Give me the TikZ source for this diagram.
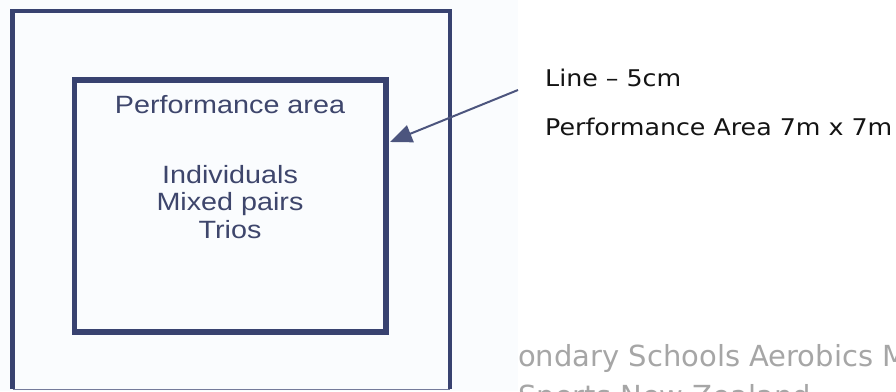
\documentclass[tikz,border=0pt]{standalone}
\usepackage{fontspec}
\setmainfont{Liberation Sans}
\newfontfamily\verdanalike{DejaVu Sans}
\usetikzlibrary{arrows.meta}
\definecolor{boxblue}{RGB}{56,66,112}
\definecolor{labelblue}{RGB}{62,70,108}
\definecolor{paper}{RGB}{250,252,254}
\definecolor{faint}{RGB}{166,166,166}
\tikzset{
  frame/.style={draw=boxblue, line width=4.6pt},
  areabox/.style={draw=boxblue, line width=5.6pt, minimum width=311.5pt, minimum height=252pt, inner sep=0pt},
  boxlabel/.style={anchor=base, inner sep=0pt, text=labelblue, font=\fontsize{25}{29}\selectfont},
  notelabel/.style={anchor=base west, inner sep=0pt, text=black!92, font=\verdanalike\fontsize{23}{28}\selectfont},
  greylabel/.style={anchor=base west, inner sep=0pt, text=faint, font=\verdanalike\fontsize{29}{35}\selectfont},
  pointer/.style={draw=boxblue!90, line width=2pt, -{Triangle[length=22pt, width=18pt]}}
}
\begin{document}
\begin{tikzpicture}[x=1pt, y=-1pt]
  \useasboundingbox (0,0) rectangle (896,391);
  \clip (0,0) rectangle (896,391);
  \fill[white] (0,0) rectangle (896,391);

  % caption lines to the lower right, running off the page
  \node[greylabel] (cap1) at (518,366) {ondary Schools Aerobics M};
  \node[greylabel] (cap2) at (518,406) {Sports New Zealand};

  % scanned sheet with the floor plan
  \fill[paper] (0,0) rectangle (518,391);

  % outer floor boundary
  \draw[frame] (12.5,389) -- (12.5,11) -- (450,11) -- (450,389);
  \draw[boxblue!70, line width=1.5pt] (12.5,389.5) -- (450,389.5);

  % performance area
  \node[areabox] (area) at (230.25,206) {};
  \node[boxlabel] (title) at (230,113) {\scalebox{1.15}[1]{Performance area}};
  \node[boxlabel] (ind) at (230,183) {\scalebox{1.15}[1]{Individuals}};
  \node[boxlabel] (pairs) at (230,210.5) {\scalebox{1.15}[1]{Mixed pairs}};
  \node[boxlabel] (trios) at (230,238) {\scalebox{1.15}[1]{Trios}};

  % notes on the right
  \node[notelabel] (line) at (545,86.7) {\scalebox{1.1}[1]{Line – 5cm}};
  \node[notelabel] (size) at (545,135.5) {\scalebox{1.1}[1]{Performance Area 7m x 7m}};

  % pointer to the boundary line
  \coordinate (from) at (518,90);
  \coordinate (tip) at (390,142);
  \draw[pointer] (from) -- (tip);
\end{tikzpicture}
\end{document}
